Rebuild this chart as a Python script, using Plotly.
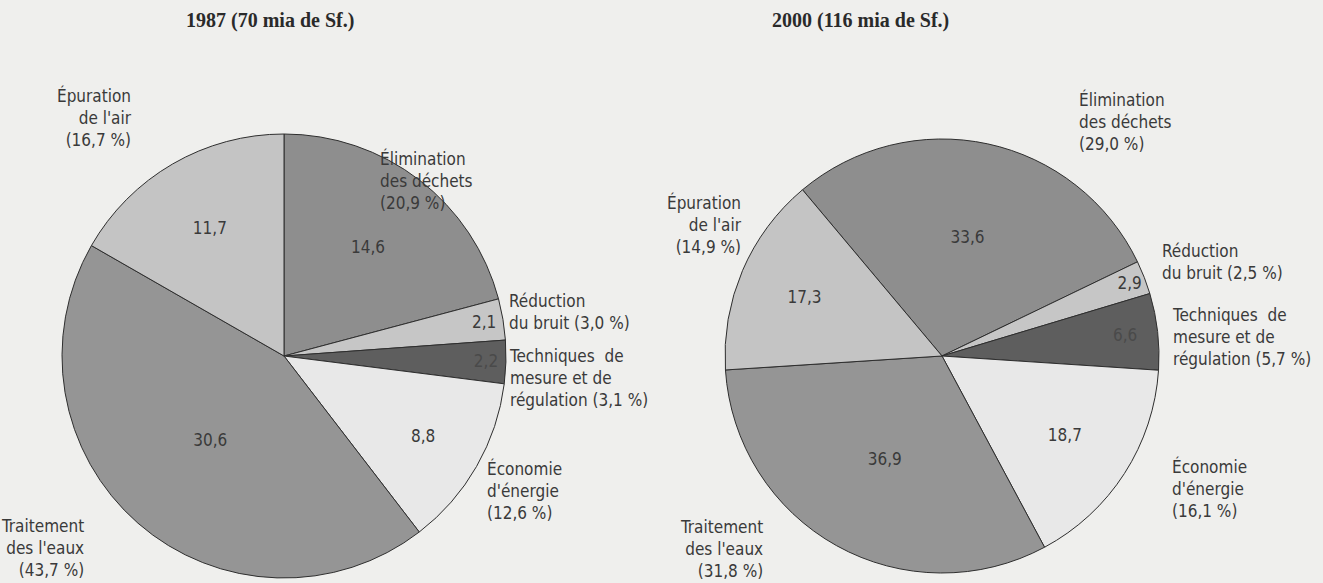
import plotly.graph_objects as go

# categories (same order for both years, clockwise)
categories = ["Élimination des déchets", "Réduction du bruit",
              "Techniques de mesure et de régulation", "Économie d'énergie",
              "Traitement des l'eaux", "Épuration de l'air"]

values_1987 = [14.6, 2.1, 2.2, 8.8, 30.6, 11.7]
shares_1987 = ["20,9", "3,0", "3,1", "12,6", "43,7", "16,7"]
values_2000 = [33.6, 2.9, 6.6, 18.7, 36.9, 17.3]
shares_2000 = ["29,0", "2,5", "5,7", "16,1", "31,8", "14,9"]

titles = ["1987 (70 mia de Sf.)", "2000 (116 mia de Sf.)"]

# outside label texts, line-broken like the original
label_lines = [
    "Élimination<br>des déchets<br>({} %)",
    "Réduction<br>du bruit ({} %)",
    "Techniques  de<br>mesure et de<br>régulation ({} %)",
    "Économie<br>d'énergie<br>({} %)",
    "Traitement<br>des l'eaux<br>({} %)",
    "Épuration<br>de l'air<br>({} %)",
]

slice_colors = ['#8e8e8e', '#c6c6c6', '#5e5e5e', '#e8e8e8', '#959595', '#c4c4c4']
value_colors = ['#3a3a3a', '#3a3a3a', '#4a4a4a', '#3a3a3a', '#3a3a3a', '#3a3a3a']

W, H = 1323, 583
FONT = "DejaVu Sans Condensed, Liberation Sans Narrow, Roboto, sans-serif"
TXT = '#3a3a3a'
BG = '#efefed'


def px(x):
    return x / W


def py(y):
    return 1 - y / H


pie_common = dict(
    sort=False,
    direction='clockwise',
    textinfo='value',
    texttemplate='%{value:.1f}',
    textposition='inside',
    insidetextorientation='horizontal',
    marker=dict(colors=slice_colors, line=dict(color='#2e2e2e', width=1)),
    textfont=dict(family=FONT, size=17, color=value_colors),
    showlegend=False,
    hoverinfo='label+value',
)

trace1 = go.Pie(labels=categories, values=values_1987, rotation=0,
                domain=dict(x=[px(62), px(506)], y=[py(578), py(134)]),
                **pie_common)

trace2 = go.Pie(labels=categories, values=values_2000, rotation=-40,
                domain=dict(x=[px(725), px(1159)], y=[py(573), py(139)]),
                **pie_common)

fig = go.Figure(data=[trace1, trace2])

# label anchors (x, y, xanchor) in pixels, per pie
pos_1987 = [(378, 180, 'left'), (507, 312, 'left'), (507, 378, 'left'),
            (485, 490, 'left'), (86, 548, 'right'), (134, 117, 'right')]
pos_2000 = [(1077, 122, 'left'), (1160, 262, 'left'), (1170, 337, 'left'),
            (1170, 488, 'left'), (765, 549, 'right'), (744, 225, 'right')]

annotations = []
for shares, pos in [(shares_1987, pos_1987), (shares_2000, pos_2000)]:
    for tpl, share, (x, y, anc) in zip(label_lines, shares, pos):
        annotations.append(dict(
            text=tpl.format(share), x=px(x), y=py(y), xref='paper', yref='paper',
            xanchor=anc, yanchor='middle', align=anc, showarrow=False,
            font=dict(family=FONT, size=17, color=TXT)))

for t, x in zip(titles, [270, 860]):
    annotations.append(dict(
        text='<b>' + t + '</b>', x=px(x), y=py(21), xref='paper', yref='paper',
        xanchor='center', yanchor='middle', showarrow=False,
        font=dict(family='Liberation Serif, DejaVu Serif, serif', size=20, color='#2a2a2a')))

fig.update_layout(
    width=W, height=H,
    margin=dict(l=0, r=0, t=0, b=0),
    paper_bgcolor=BG,
    plot_bgcolor=BG,
    separators=', ',
    annotations=annotations,
)

fig.write_html("out.html",
               config={'displayModeBar': False},
               post_script="document.body.style.margin='0';"
                           "document.body.style.background='%s';" % BG)
